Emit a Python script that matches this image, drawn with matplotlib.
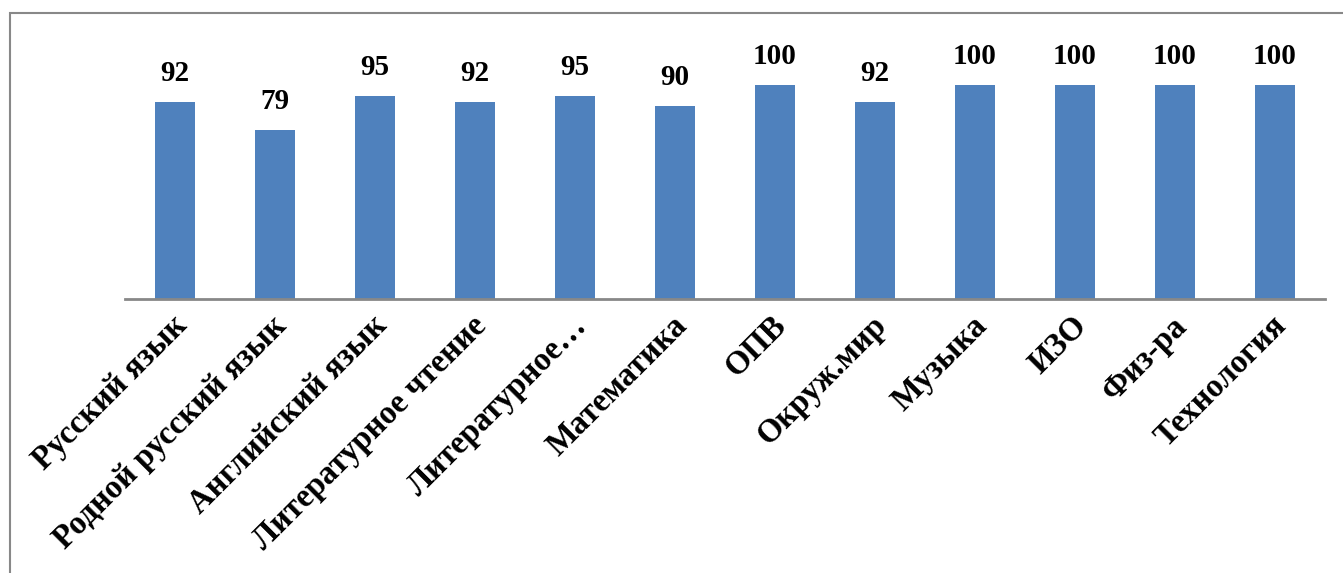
import matplotlib.pyplot as plt
import matplotlib.transforms as mtransforms
from matplotlib.patches import Rectangle

subjects = ['Русский язык', 'Родной русский язык', 'Английский язык',
            'Литературное чтение', 'Литературное…', 'Математика', 'ОПВ',
            'Окруж.мир', 'Музыка', 'ИЗО', 'Физ-ра', 'Технология']
values = [92, 79, 95, 92, 95, 90, 100, 92, 100, 100, 100, 100]

plt.rcParams['font.family'] = ['Liberation Serif', 'DejaVu Serif']

fig = plt.figure(figsize=(13.43, 5.73), dpi=100)
ax = fig.add_axes([125 / 1343, 1 - 299 / 573, 1200 / 1343, 280 / 573])

x = range(len(subjects))
bars = ax.bar(x, values, width=0.4, color='#4F81BD')
for i, v in enumerate(values):
    ax.text(i, v + 7, str(v), ha='center', va='bottom', fontsize=21, fontweight='bold')

ax.set_xlim(-0.5, len(subjects) - 0.5)
ax.set_ylim(0, 100 * 280 / 214)
ax.set_yticks([])
ax.set_xticks(list(x))
ax.set_xticklabels(subjects, rotation=45, ha='right', rotation_mode='anchor',
                   fontsize=23.5, fontweight='bold')
ax.tick_params(axis='x', length=0, pad=8)
shift = mtransforms.ScaledTranslation(-4 / 100, 0, fig.dpi_scale_trans)
for lbl in ax.get_xticklabels():
    lbl.set_transform(lbl.get_transform() + shift)
for s in ['top', 'right', 'left']:
    ax.spines[s].set_visible(False)
ax.spines['bottom'].set_color('#888888')
ax.spines['bottom'].set_linewidth(2)

# outer chart border
fig.patches.append(Rectangle((10 / 1343, -0.1), 1.2, 1 - 13 / 573 + 0.1,
                             transform=fig.transFigure, fill=False,
                             edgecolor='#888888', linewidth=1.5))

fig.savefig('out.png', dpi=100)
